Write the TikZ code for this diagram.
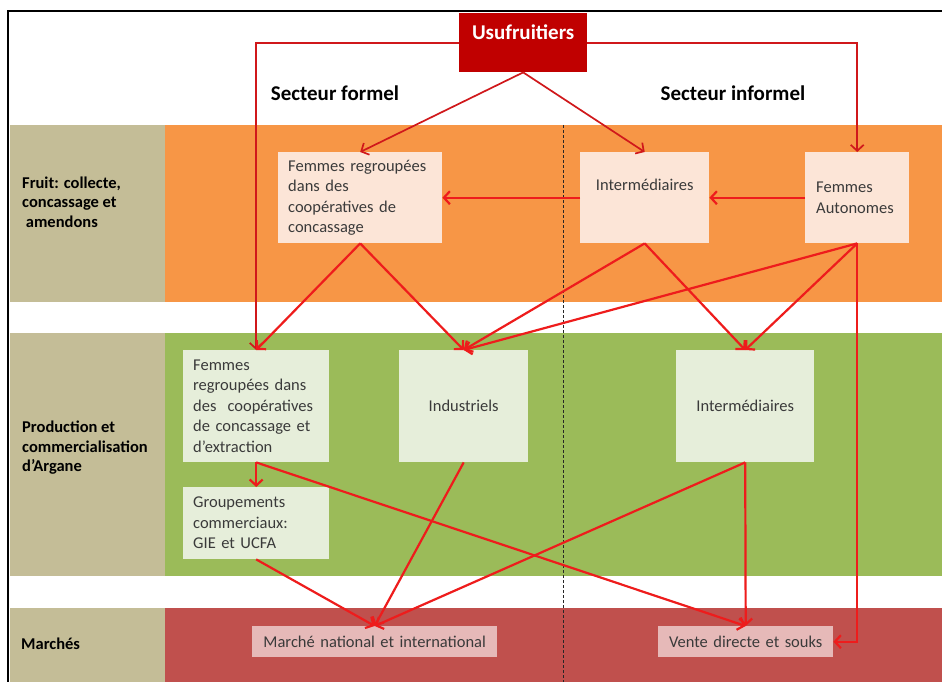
\documentclass[tikz,border=0pt]{standalone}
\usepackage{fontspec}
\setmainfont{Carlito}
\usetikzlibrary{arrows.meta}
\definecolor{tanband}{HTML}{C4BD97}
\definecolor{orangeband}{HTML}{F79646}
\definecolor{peach}{HTML}{FCE5D7}
\definecolor{greenband}{HTML}{9BBB59}
\definecolor{lightgreen}{HTML}{E6EEDA}
\definecolor{redband}{HTML}{C0504D}
\definecolor{pinkbox}{HTML}{E6B9B8}
\definecolor{usured}{HTML}{C00000}
\definecolor{arrred}{HTML}{EE1C1C}
\definecolor{usuline}{HTML}{D0181B}
\definecolor{textgray}{HTML}{3A3A3A}
\newcommand\boxfont{\fontsize{16.5}{20.5}\selectfont}
\newcommand\labfont{\bfseries\fontsize{16.5}{19.5}\selectfont}
\newcommand\bigfont{\bfseries\fontsize{21}{25}\selectfont}
\begin{document}
\begin{tikzpicture}[x=1pt,y=-1pt,
  box/.style={anchor=north west, inner xsep=10pt, inner ysep=0pt, align=left, font=\boxfont, text=textgray},
  lab/.style={anchor=west, inner sep=0pt, align=left, font=\labfont, text=black},
  arr/.style={draw=arrred, line width=2.2pt, -{Straight Barb[length=6pt,width=13pt]}},
  uarr/.style={draw=usuline, line width=1.7pt, -{Straight Barb[length=6pt,width=13pt]}}]
\useasboundingbox (0,0) rectangle (942,682);
\fill[white] (0,0) rectangle (942,682);
% bands
\fill[tanband] (10,125) rectangle (165,302);
\fill[orangeband] (165,125) rectangle (942,302);
\fill[tanband] (10,333) rectangle (165,576);
\fill[greenband] (165,333) rectangle (942,576);
\fill[tanband] (10,608) rectangle (165,682);
\fill[redband] (165,608) rectangle (942,682);
\draw[densely dashed, line width=0.9pt, black!85] (563,125) -- (563,682);
\draw[line width=2.2pt] (8,682) -- (8,11) -- (942,11);
% row labels
\node[lab] (l1) at (22,202) {Fruit: collecte,\\concassage et\\\ amendons};
\node[lab] (l2) at (22,448) {Production et\\commercialisation\\d’Argane};
\node[lab] (l3) at (21,644) {Marchés};
% sector titles
\node[font=\bigfont] (sf) at (335,93) {Secteur formel};
\node[font=\bigfont] (si) at (733,93) {Secteur informel};
% top box
\node[fill=usured, minimum width=128pt, minimum height=59pt, anchor=north west, inner sep=0pt] (usu) at (459,13) {};
\node[font=\bigfont, text=white] (usut) at ([yshift=-19pt]usu.north) {Usufruitiers};
% row 1
\node[box, fill=peach, text width=144pt, minimum height=91pt] (fc1) at (278,152) {Femmes regroupées\\dans des\\coopératives de\\concassage};
\node[box, fill=peach, text width=109pt, minimum height=91pt, align=center] (int1) at (580,152) {Intermédiaires\\ \strut};
\node[box, fill=peach, text width=82pt, minimum height=91pt, inner xsep=11pt] (fa) at (805,152) {Femmes\\Autonomes};
% row 2
\node[box, fill=lightgreen, text width=126pt, minimum height=112pt] (fc2) at (183,350) {Femmes\\regroupées dans\\des\ \ coopératives\\de concassage et\\d’extraction};
\node[box, fill=lightgreen, text width=109pt, minimum height=112pt, align=center] (ind) at (399,350) {Industriels};
\node[box, fill=lightgreen, text width=118pt, minimum height=112pt, align=center] (int2) at (676,350) {Intermédiaires};
\node[box, fill=lightgreen, text width=126pt, minimum height=72pt] (grp) at (183,487) {Groupements\\commerciaux:\\GIE et UCFA};
% row 3
\node[box, fill=pinkbox, text width=225pt, minimum height=31pt, align=center] (marche) at (252,626) {Marché national et international};
\node[box, fill=pinkbox, text width=155pt, minimum height=31pt, align=center] (vente) at (658,626) {Vente directe et souks};
% connectors
\draw[uarr] (usu.west) -| (fc2.north);
\draw[uarr] (usu.east) -| (fa.north);
\draw[uarr] (usu.south) -- (fc1.north);
\draw[uarr] (usu.south) -- (int1.north);
\draw[arr] (fa.west) -- (int1.east);
\draw[arr] (int1.west) -- (fc1.east);
\draw[arr] (fc1.south) -- (fc2.north);
\draw[arr] (fc1.south) -- (ind.north);
\draw[arr] (int1.south) -- (ind.north);
\draw[arr] (int1.south) -- (int2.north);
\draw[arr] (fa.south) -- (ind.north);
\draw[arr] (fa.south) -- (int2.north);
\draw[arr] (fa.south) |- (vente.east);
\draw[arr] (fc2.south) -- (grp.north);
\draw[arr] (fc2.south) -- (vente.north);
\draw[arr] (grp.south) -- (marche.north);
\draw[arr] (ind.south) -- (marche.north);
\draw[arr] (int2.south) -- (marche.north);
\draw[arr] (int2.south) -- (vente.north);
\end{tikzpicture}
\end{document}
